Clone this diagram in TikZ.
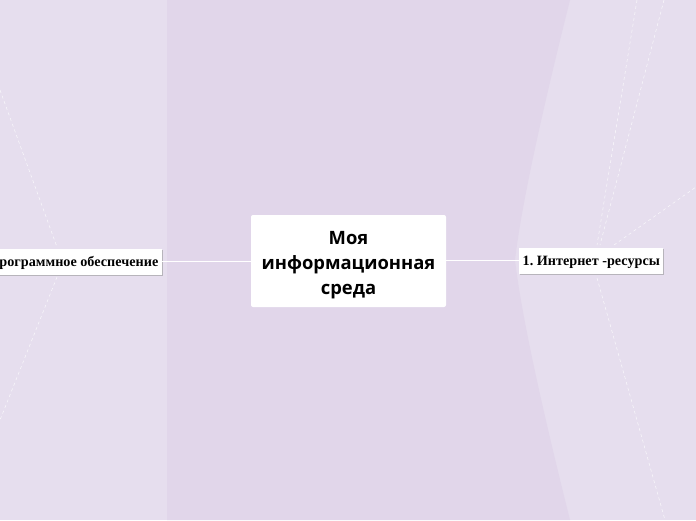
\documentclass[tikz,border=0pt]{standalone}
\usepackage{fontspec}
\usetikzlibrary{shadows}
\setmainfont{Liberation Serif}
\newfontfamily\centerfont{Open Sans}
\frenchspacing
\begin{document}
\begin{tikzpicture}[x=1pt,y=-1pt,
  bgdark/.style={fill=darkbg},
  guide/.style={draw=white,dashed,dash pattern=on 3pt off 3pt,line width=0.5pt,opacity=0.8},
  topic/.style={fill=white,rounded corners=2pt,minimum width=195pt,minimum height=92pt,inner sep=0pt},
  topictext/.style={align=center,inner sep=0pt,font=\centerfont\bfseries\fontsize{18.4}{25}\selectfont},
  subtopic/.style={fill=white,minimum height=26pt,inner xsep=3.5pt,inner ysep=3pt,text height=11.5pt,text depth=1.5pt,font=\bfseries\fontsize{14.2}{16}\selectfont,drop shadow={shadow xshift=1pt,shadow yshift=-1pt,fill=black!40,opacity=0.6}},
  link/.style={draw=white,line width=0.8pt}]
\definecolor{lightbg}{HTML}{E6DEEE}
\definecolor{darkbg}{HTML}{E1D6EA}
\useasboundingbox (0,0) rectangle (696,520);
\clip (0,0) rectangle (696,520);
\fill[lightbg] (0,0) rectangle (696,520);
\fill[bgdark] (167,0) -- (570,0) .. controls (545,100) and (522,200) .. (515,260) .. controls (522,320) and (545,420) .. (570,520) -- (167,520) -- cycle;
% dashed guides
\draw[guide] (0,90) -- (57,247);
\draw[guide] (57,277) -- (0,420);
\draw[guide] (637,0) -- (597,245);
\draw[guide] (664,0) -- (600,245);
\draw[guide] (614,245) -- (696,187);
\draw[guide] (597,278) -- (665,520);
% nodes
\node[topic] (c) at (348.5,261) {};
\node[topictext] (ct) at (348.5,265) {Моя\\информационная\\среда};
\node[subtopic,anchor=east] (l) at (162,261.5) {Программное обеспечение};
\node[subtopic,anchor=west] (r) at (519,260.5) {1. Интернет -ресурсы};
\draw[link] (l.east) -- (c.west |- l.east);
\draw[link] (c.east |- r.west) -- (r.west);
\end{tikzpicture}
\end{document}
